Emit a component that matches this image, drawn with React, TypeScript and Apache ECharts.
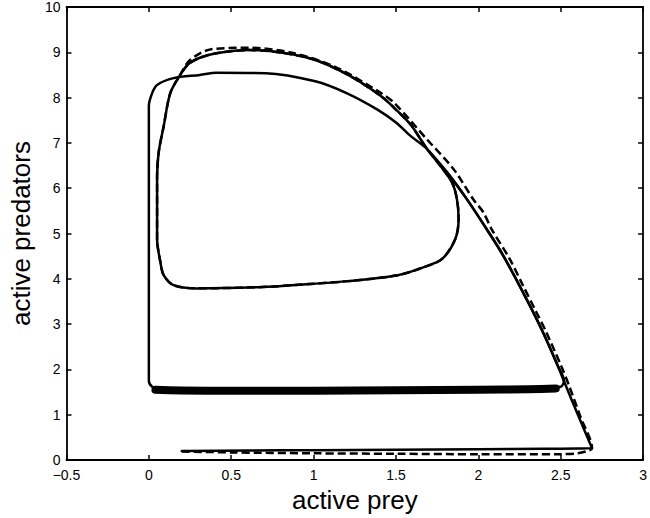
import React, { useEffect, useRef } from "react";
import * as echarts from "echarts";

// x ticks / y ticks
const xTicks = { min: -0.5, max: 3, step: 0.5 };
const yTicks = { min: 0, max: 10, step: 1 };

// solid trajectory (start at bottom, converges onto inner cycle)
const solidPath: number[][] = [
  [0.2, 0.2], [0.6, 0.21], [1.0, 0.22], [1.5, 0.23], [2.0, 0.24], [2.4, 0.25], [2.6, 0.255], [2.69, 0.26],
  [2.61, 0.95], [2.53, 1.65], [2.48, 2.1], [2.39, 2.84], [2.29, 3.57], [2.15, 4.52], [2.05, 5.1], [1.93, 5.76],
  [1.81, 6.35], [1.69, 6.86], [1.59, 7.4], [1.51, 7.7], [1.41, 8.03], [1.21, 8.5], [1.01, 8.83], [0.81, 8.99],
  [0.61, 9.05], [0.41, 8.98], [0.31, 8.88], [0.24, 8.74], [0.19, 8.5], [0.13, 8.1], [0.09, 7.37], [0.06, 6.8],
  [0.05, 6.27], [0.05, 5.54], [0.05, 4.88], [0.07, 4.37], [0.09, 4.08], [0.15, 3.86], [0.29, 3.79], [0.69, 3.82],
  [0.91, 3.87], [1.21, 3.95], [1.51, 4.08], [1.67, 4.26], [1.78, 4.44], [1.86, 4.88], [1.88, 5.32], [1.87, 5.76],
  [1.84, 6.13], [1.77, 6.49], [1.69, 6.86], [1.59, 7.4], [1.51, 7.7], [1.41, 8.03], [1.21, 8.5], [1.01, 8.83],
  [0.81, 8.99], [0.61, 9.05], [0.41, 8.98], [0.31, 8.88], [0.24, 8.74], [0.19, 8.5], [0.13, 8.1], [0.09, 7.37],
  [0.06, 6.8], [0.05, 6.27],
];

// dashed trajectory
const dashedPath: number[][] = [
  [0.2, 0.19], [0.5, 0.17], [1.0, 0.15], [1.5, 0.14], [2.0, 0.13], [2.5, 0.13], [2.6, 0.15], [2.66, 0.2],
  [2.69, 0.26], [2.62, 0.95], [2.55, 1.65], [2.5, 2.1], [2.41, 2.84], [2.35, 3.28], [2.27, 3.86], [2.19, 4.44],
  [2.08, 5.1], [2.03, 5.47], [1.97, 5.75], [1.85, 6.42], [1.69, 7.07], [1.49, 7.88], [1.41, 8.1], [1.13, 8.68],
  [0.87, 8.99], [0.61, 9.1], [0.38, 9.07], [0.25, 8.83], [0.19, 8.5], [0.13, 8.1], [0.09, 7.37], [0.06, 6.8],
  [0.05, 6.27], [0.05, 5.54], [0.05, 4.88], [0.07, 4.37], [0.09, 4.08], [0.15, 3.86], [0.29, 3.79], [0.69, 3.82],
  [0.91, 3.87], [1.21, 3.95], [1.51, 4.08], [1.67, 4.26], [1.78, 4.44], [1.86, 4.88], [1.88, 5.32], [1.87, 5.76],
  [1.84, 6.13], [1.77, 6.49], [1.69, 6.86], [1.59, 7.4], [1.51, 7.7], [1.41, 8.03], [1.21, 8.5], [1.01, 8.83],
  [0.81, 8.99], [0.61, 9.05], [0.41, 8.98], [0.31, 8.88], [0.24, 8.74], [0.19, 8.5],
];

// outer (rectangular) cycle
const outerCycle: number[][] = [
  [0.0, 1.85], [0.0, 3.0], [0.0, 5.0], [0.0, 7.0], [0.0, 7.81], [0.02, 8.1], [0.05, 8.28], [0.15, 8.43],
  [0.31, 8.5], [0.41, 8.55], [0.71, 8.54], [1.01, 8.36], [1.2, 8.1], [1.39, 7.73], [1.5, 7.45], [1.59, 7.15],
  [1.69, 6.86], [1.81, 6.35], [1.93, 5.76], [2.05, 5.1], [2.15, 4.52], [2.29, 3.57], [2.39, 2.84], [2.48, 2.1],
  [2.52, 1.75], [2.5, 1.62], [2.3, 1.58], [2.0, 1.56], [1.5, 1.54], [1.0, 1.53], [0.5, 1.53], [0.2, 1.54],
  [0.07, 1.56], [0.02, 1.62], [0.0, 1.75], [0.0, 1.85],
];

// thick band of repeated passes along the bottom of the outer cycle
const bandPath: number[][] = [
  [0.04, 1.55], [0.2, 1.535], [0.5, 1.53], [1.0, 1.53], [1.5, 1.54], [2.0, 1.55], [2.3, 1.565], [2.47, 1.58],
];

const FONT = "'Liberation Sans', Arial, Helvetica, sans-serif";

export default function App() {
  const ref = useRef<HTMLDivElement>(null);
  useEffect(() => {
    if (!ref.current) return;
    const chart = echarts.init(ref.current, undefined, { renderer: "svg" });
    const fmt = (v: number) => (v < 0 ? "\u2212" + Math.abs(v) : String(v));
    const axisCommon = {
      type: "value" as const,
      axisLine: { show: true, onZero: false, lineStyle: { color: "#000", width: 1.8 } },
      axisTick: { show: true, inside: true, length: 5, lineStyle: { color: "#000", width: 1.5 } },
      splitLine: { show: false },
    };
    const lineSeries = (data: number[][], width: number, dashed = false, smooth: number | boolean = 0.3) => ({
      type: "line" as const,
      data,
      xAxisIndex: 0,
      yAxisIndex: 0,
      showSymbol: false,
      symbol: "none",
      smooth,
      lineStyle: {
        color: "#000",
        width,
        type: dashed ? [8, 4] : "solid",
        cap: dashed ? "butt" : "round",
        join: "round",
      },
      silent: true,
    });
    chart.setOption({
      animation: false,
      backgroundColor: "#fff",
      grid: { left: 64, right: 2, top: 7, bottom: 55, containLabel: false },
      xAxis: [
        {
          ...axisCommon,
          position: "bottom",
          min: xTicks.min,
          max: xTicks.max,
          interval: xTicks.step,
          axisLabel: { show: true, color: "#000", fontSize: 14, fontFamily: FONT, margin: 8, formatter: fmt },
          name: "active prey",
          nameLocation: "middle",
          nameGap: 21,
          nameTextStyle: { color: "#000", fontSize: 26, fontFamily: FONT },
        },
        {
          ...axisCommon,
          position: "top",
          min: xTicks.min,
          max: xTicks.max,
          interval: xTicks.step,
          axisLabel: { show: false },
        },
      ],
      yAxis: [
        {
          ...axisCommon,
          position: "left",
          min: yTicks.min,
          max: yTicks.max,
          interval: yTicks.step,
          axisLabel: { show: true, color: "#000", fontSize: 14, fontFamily: FONT, margin: 6 },
          name: "active predators",
          nameLocation: "middle",
          nameGap: 30,
          nameTextStyle: { color: "#000", fontSize: 26, fontFamily: FONT },
        },
        {
          ...axisCommon,
          position: "right",
          min: yTicks.min,
          max: yTicks.max,
          interval: yTicks.step,
          axisLabel: { show: false },
        },
      ],
      series: [
        lineSeries(bandPath, 8, false, 0.2),
        lineSeries(outerCycle, 2.5),
        lineSeries(dashedPath, 2.5, true),
        lineSeries(solidPath, 2.5),
      ],
    });
    return () => chart.dispose();
  }, []);
  return (
    <div
      ref={ref}
      style={{ position: "absolute", left: 0, top: 0, width: 650, height: 518, background: "#fff" }}
    />
  );
}
